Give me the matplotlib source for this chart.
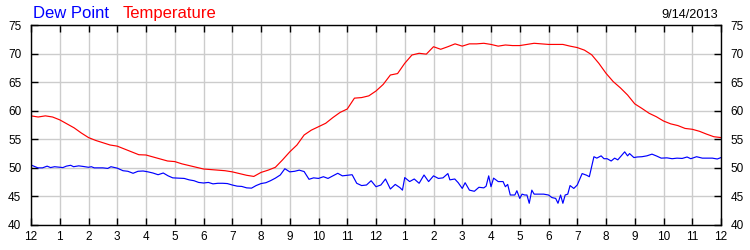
import matplotlib
matplotlib.use("Agg")
import matplotlib.pyplot as plt
import numpy as np

# temperature, read every quarter hour (hours since midnight)
temp_hours = np.arange(0, 24.01, 0.25)
temp_vals = [
    59.1, 58.9, 59.1, 58.9, 58.4, 57.7, 57.0, 56.1, 55.3, 54.8, 54.4, 54.0,
    53.8, 53.3, 52.8, 52.3, 52.25, 51.9, 51.55, 51.2, 51.1, 50.7, 50.4, 50.1,
    49.8, 49.7, 49.6, 49.5, 49.3, 49.0, 48.7, 48.5, 49.2, 49.6, 50.1, 51.4,
    52.8, 54.0, 55.75, 56.6, 57.2, 57.8, 58.8, 59.7, 60.3, 62.2, 62.3, 62.6,
    63.45, 64.6, 66.25, 66.5, 68.3, 69.75, 70.05, 69.9, 71.2, 70.75, 71.2, 71.7,
    71.3, 71.7, 71.7, 71.8, 71.6, 71.3, 71.5, 71.4, 71.4, 71.6, 71.8, 71.7,
    71.6, 71.6, 71.6, 71.3, 71.05, 70.6, 69.8, 68.3, 66.55, 65.1, 64.0, 62.75,
    61.2, 60.4, 59.55, 58.95, 58.2, 57.7, 57.4, 56.9, 56.75, 56.4, 55.9, 55.45,
    55.3,
]

# dew point, read at irregular times to keep the noise
dew_hours = [
    0.0, 0.24, 0.4, 0.56, 0.68, 0.82, 1.0, 1.11, 1.23, 1.38, 1.48, 1.66, 1.81,
    2.0, 2.1, 2.2, 2.5, 2.67, 2.78, 3.0, 3.2, 3.37, 3.55, 3.72, 3.9, 4.07, 4.24,
    4.42, 4.6, 4.77, 4.93, 5.17, 5.33, 5.5, 5.67, 5.83, 6.0, 6.17, 6.33, 6.5,
    6.67, 6.83, 7.0, 7.17, 7.33, 7.5, 7.67, 7.83, 8.0, 8.17, 8.33, 8.5, 8.67,
    8.83, 9.0, 9.17, 9.33, 9.5, 9.67, 9.83, 10.0, 10.17, 10.33, 10.5, 10.67,
    10.83, 11.0, 11.17, 11.33, 11.5, 11.67, 11.83, 12.0, 12.17, 12.33, 12.5,
    12.67, 12.83, 12.92, 13.0, 13.17, 13.33, 13.5, 13.67, 13.83, 14.0, 14.17,
    14.33, 14.5, 14.57, 14.74, 14.86, 15.0, 15.1, 15.25, 15.42, 15.58, 15.75,
    15.83, 15.92, 16.0, 16.09, 16.25, 16.42, 16.5, 16.58, 16.67, 16.83, 16.9,
    17.0, 17.08, 17.17, 17.25, 17.33, 17.42, 17.5, 17.67, 17.83, 18.0, 18.12,
    18.25, 18.33, 18.42, 18.5, 18.58, 18.67, 18.75, 18.88, 19.0, 19.17, 19.33,
    19.42, 19.5, 19.58, 19.68, 19.83, 19.93, 20.04, 20.18, 20.3, 20.41, 20.53,
    20.65, 20.75, 20.82, 20.97, 21.08, 21.25, 21.42, 21.6, 21.77, 21.92, 22.12,
    22.3, 22.47, 22.65, 22.82, 22.95, 23.15, 23.35, 23.52, 23.7, 23.87, 24.0,
]
dew_vals = [
    50.5, 50.0, 50.0, 50.3, 50.05, 50.2, 50.1, 50.05, 50.3, 50.45, 50.2, 50.35, 50.25,
    50.1, 50.2, 50.0, 50.0, 49.9, 50.2, 49.95, 49.5, 49.4, 49.05, 49.4, 49.45, 49.3, 49.1,
    48.8, 49.1, 48.6, 48.25, 48.2, 48.15, 47.9, 47.75, 47.45, 47.35, 47.45, 47.2, 47.3,
    47.3, 47.25, 47.0, 46.8, 46.75, 46.5, 46.45, 46.9, 47.25, 47.4, 47.75, 48.2, 48.75,
    49.85, 49.3, 49.4, 49.6, 49.35, 48.0, 48.25, 48.15, 48.45, 48.15, 48.6, 49.05,
    48.6, 48.7, 48.8, 47.3, 46.9, 47.0, 47.75, 46.7, 47.0, 48.05, 46.3,
    47.1, 46.55, 46.1, 48.3, 47.6, 48.05, 47.3, 48.75, 47.6, 48.6, 48.15,
    48.25, 49.0, 47.9, 48.05, 47.4, 46.4, 47.4, 46.1, 45.9, 46.6, 46.5,
    46.8, 48.6, 46.7, 48.2, 47.6, 47.6, 46.7, 47.1, 45.25, 45.25, 46.0,
    44.65, 45.4, 45.25, 45.25, 43.8, 46.1, 45.4, 45.4, 45.4, 45.25, 44.8,
    44.65, 43.8, 45.25, 43.8, 45.25, 45.4, 46.9, 46.4, 47.0, 49.0, 48.7,
    48.45, 50.2, 51.95, 51.7, 52.1, 51.6, 51.6, 51.2, 51.7, 51.4, 52.1,
    52.8, 52.1, 52.5, 51.8, 51.9, 51.95, 52.1, 52.4, 52.05, 51.7, 51.75,
    51.6, 51.7, 51.65, 51.9, 51.6, 51.95, 51.7, 51.7, 51.7, 51.55, 51.8,
]

hour_ticks = list(range(0, 25))
hour_labels = ["12"] + [str(h) for h in range(1, 12)] + ["12"] + [str(h) for h in range(1, 12)] + ["12"]
y_ticks = list(range(40, 76, 5))

plt.rcParams['font.family'] = ['Liberation Sans', 'DejaVu Sans']

fig = plt.figure(figsize=(7.5, 2.5), dpi=100)
ax = fig.add_axes([31 / 750, 25 / 250, 690 / 750, 200 / 250])

ax.plot(temp_hours, temp_vals, color='#ff0000', lw=0.85)
ax.plot(dew_hours, dew_vals, color='#0000ff', lw=0.85)

ax.set_xlim(0, 24)
ax.set_ylim(40, 75)
ax.set_xticks(hour_ticks)
ax.set_xticklabels(hour_labels)
ax.set_yticks(y_ticks)
ax.grid(True, color='#cccccc', lw=1.0)
ax.set_axisbelow(True)
for s in ax.spines.values():
    s.set_color('black'); s.set_linewidth(1.0)

ax.tick_params(axis='both', direction='in', length=5, width=1, labelsize=8.5,
               top=True, right=True, labelright=True)
ax.tick_params(axis='x', pad=4)
ax.tick_params(axis='y', pad=7)

fig.text(33 / 750, 1 - 18 / 250, 'Dew Point', color='#0000ff', fontsize=12, va='baseline')
fig.text(123 / 750, 1 - 18 / 250, 'Temperature', color='#ff0000', fontsize=12, va='baseline')
fig.text(718.5 / 750, 1 - 17.5 / 250, '9/14/2013', color='black', fontsize=9.2,
         va='baseline', ha='right')

fig.savefig('out.png', dpi=100)
